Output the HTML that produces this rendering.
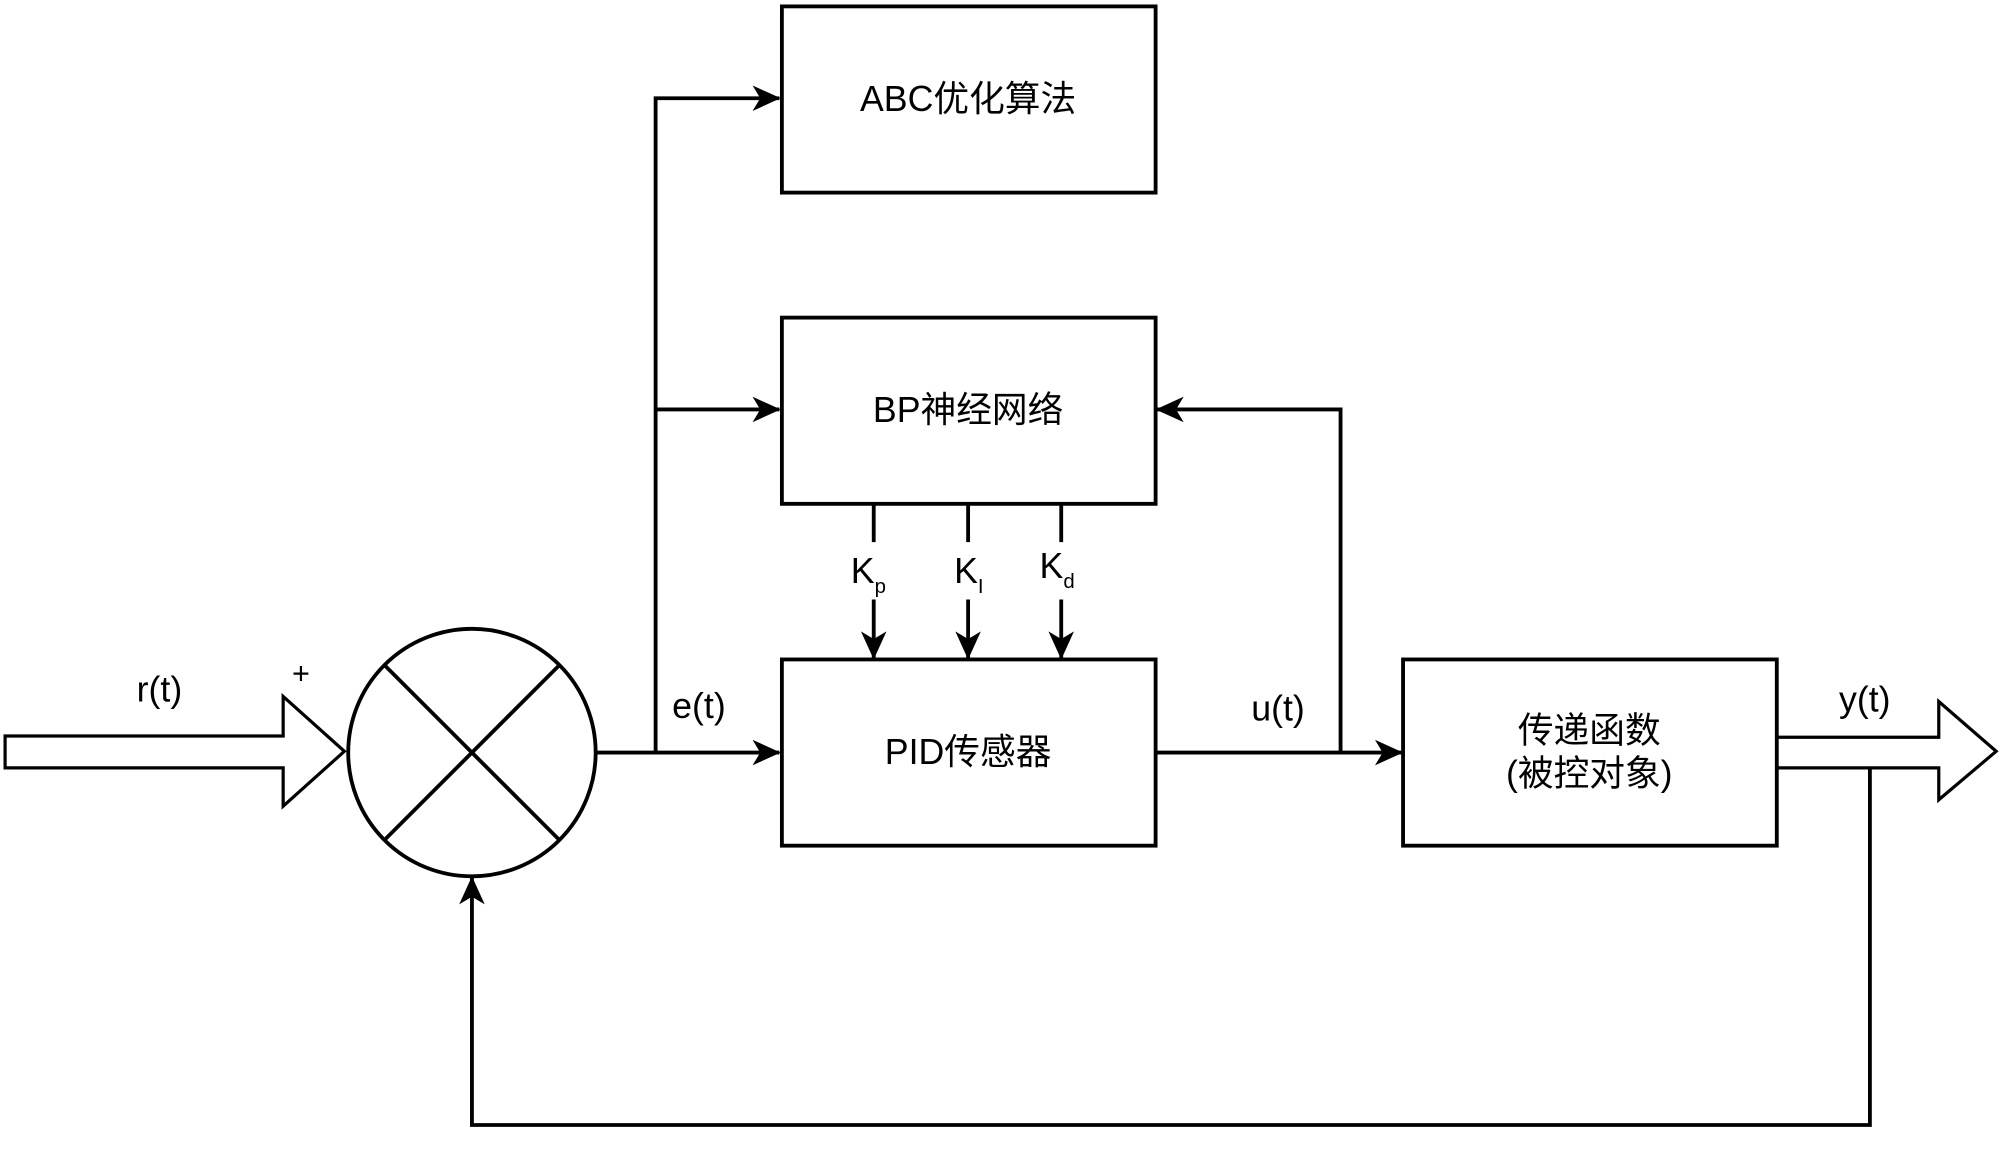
<!DOCTYPE html>
<html><head><meta charset="utf-8"><style>html,body{margin:0;padding:0;background:#fff}svg{display:block}</style></head>
<body>
<svg width="2000" height="1155" viewBox="0 0 1568 905.5" xmlns="http://www.w3.org/2000/svg" font-family="Liberation Sans, Noto Sans CJK SC, sans-serif" font-size="28" fill="#000">
<defs><marker id="a" markerWidth="10" markerHeight="10" refX="9" refY="5" orient="auto" markerUnits="userSpaceOnUse" viewBox="0 0 10 10"><path d="M0,0 L10,5 L0,10 L3,5 Z" fill="#000"/></marker>
<marker id="b" markerWidth="22" markerHeight="20" refX="21" refY="10" orient="auto" markerUnits="userSpaceOnUse" viewBox="0 0 22 20"><path d="M0,0 L22,10 L0,20 L6,10 Z" fill="#000"/></marker></defs>
<g stroke="#000" stroke-width="3" fill="none">
<rect x="613" y="5" width="293" height="146"/>
<rect x="613" y="249" width="293" height="146"/>
<rect x="613" y="517" width="293" height="146"/>
<rect x="1100" y="517" width="293" height="146"/>
<circle cx="370" cy="590" r="97"/>
<line x1="301" y1="521" x2="439" y2="659"/><line x1="439" y1="521" x2="301" y2="659"/>
<path d="M4,577 H222 V546 L270,589 L222,632 V602 H4 Z" stroke-width="2.5"/>
<path d="M1393,578 H1520 V550 L1565,589 L1520,627 V602 H1393" stroke-width="2.5"/>
<line x1="467" y1="590" x2="611" y2="590" marker-end="url(#b)"/>
<path d="M514,590 V77 H611" marker-end="url(#b)"/>
<line x1="514" y1="321" x2="611" y2="321" marker-end="url(#b)"/>
<line x1="906" y1="590" x2="1099" y2="590" marker-end="url(#b)"/>
<path d="M1051,590 V321 H907" marker-end="url(#b)"/>
<line x1="685" y1="395" x2="685" y2="425"/><line x1="685" y1="470" x2="685" y2="516" marker-end="url(#b)"/>
<line x1="759" y1="395" x2="759" y2="425"/><line x1="759" y1="470" x2="759" y2="516" marker-end="url(#b)"/>
<line x1="832" y1="395" x2="832" y2="425"/><line x1="832" y1="470" x2="832" y2="516" marker-end="url(#b)"/>
<path d="M1466,602 V882 H370 V688" marker-end="url(#b)"/>
</g>
<g text-anchor="middle">
<text x="759" y="87">ABC优化算法</text>
<text x="759" y="331">BP神经网络</text>
<text x="759" y="599">PID传感器</text>
<text x="1246" y="582">传递函数</text>
<text x="1246" y="616">(被控对象)</text>
<text x="125" y="550">r(t)</text>
<text x="236" y="536" font-size="24">+</text>
<text x="548" y="563">e(t)</text>
<text x="1002" y="565">u(t)</text>
<text x="1462" y="558">y(t)</text>
</g>
<text x="667" y="457">K<tspan font-size="16" dy="8">p</tspan></text>
<text x="748" y="457">K<tspan font-size="16" dy="8">I</tspan></text>
<text x="815" y="453">K<tspan font-size="16" dy="8">d</tspan></text>
</svg>
</body></html>
